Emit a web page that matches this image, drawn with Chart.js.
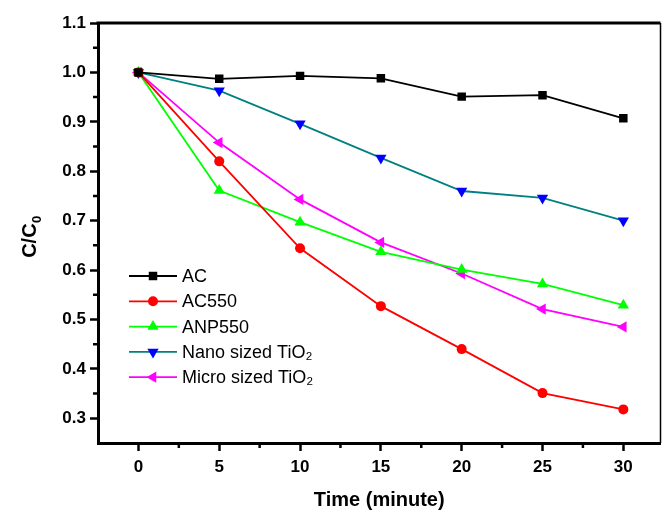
<!DOCTYPE html>
<html>
<head>
<meta charset="utf-8">
<script src="https://cdn.jsdelivr.net/npm/chart.js@4/dist/chart.umd.min.js"></script>
<style>
  html, body { margin: 0; padding: 0; background: #fff; }
  #wrap { width: 667px; height: 516px; }
</style>
</head>
<body>
<div id="wrap"><canvas id="myChart" width="667" height="516"></canvas></div>
<script>
const times = [0, 5, 10, 15, 20, 25, 30];
const xTicks = [0, 5, 10, 15, 20, 25, 30];
const yTicks = [0.3, 0.4, 0.5, 0.6, 0.7, 0.8, 0.9, 1.0, 1.1];

const acValues    = [1.0, 0.987, 0.993, 0.988, 0.951, 0.954, 0.907];
const ac550Values = [1.0, 0.820, 0.644, 0.527, 0.440, 0.351, 0.318];
const anp550Values = [1.0, 0.761, 0.697, 0.637, 0.601, 0.572, 0.529];
const nanoValues  = [1.0, 0.963, 0.896, 0.827, 0.760, 0.746, 0.700];
const microValues = [1.0, 0.858, 0.743, 0.656, 0.593, 0.521, 0.485];

const seriesNames = ['AC', 'AC550', 'ANP550', 'Nano sized TiO\u2082', 'Micro sized TiO\u2082'];

const FONT = "'Liberation Sans', Arial, sans-serif";

function points(values) {
  return times.map((t, i) => ({ x: t, y: values[i] }));
}

function series(label, values, lineColor, markColor, style, radius, rotation) {
  return {
    label: label,
    data: points(values),
    borderColor: lineColor,
    borderWidth: 1.8,
    backgroundColor: markColor,
    pointBackgroundColor: markColor,
    pointBorderColor: markColor,
    pointBorderWidth: 0,
    pointStyle: style,
    pointRadius: radius,
    pointRotation: rotation,
    pointHoverRadius: radius,
    tension: 0
  };
}

// legend with line + marker, like the origin plot
const lineLegend = {
  id: 'lineLegend',
  afterDatasetsDraw(chart) {
    const ctx = chart.ctx;
    chart.data.datasets.forEach((ds, i) => {
      const y = 276 + i * 25.3;
      ctx.save();
      ctx.strokeStyle = ds.borderColor;
      ctx.lineWidth = ds.borderWidth;
      ctx.beginPath();
      ctx.moveTo(129, y);
      ctx.lineTo(177, y);
      ctx.stroke();
      ctx.fillStyle = ds.pointBackgroundColor;
      ctx.strokeStyle = ds.pointBorderColor;
      Chart.helpers.drawPoint(ctx, {
        pointStyle: ds.pointStyle,
        rotation: ds.pointRotation,
        radius: ds.pointRadius,
        borderWidth: 0
      }, 153, y);
      ctx.fillStyle = '#000';
      ctx.font = '18px ' + FONT;
      ctx.textBaseline = 'middle';
      ctx.textAlign = 'left';
      ctx.fillText(ds.label, 182, y + 1);
      ctx.restore();
    });
  }
};

// frame on top/right, minor ticks, and the C/C0 title with a real subscript
const frame = {
  id: 'frame',
  beforeDatasetsDraw(chart) {
    const ctx = chart.ctx;
    const a = chart.chartArea;
    const xs = chart.scales.x, ys = chart.scales.y;
    ctx.save();
    ctx.strokeStyle = '#000';
    ctx.lineWidth = 3;
    ctx.beginPath();
    ctx.moveTo(a.left - 1.5, a.top);
    ctx.lineTo(a.right, a.top);
    ctx.stroke();
    ctx.lineWidth = 1.5;
    ctx.beginPath();
    ctx.moveTo(a.right, a.top);
    ctx.lineTo(a.right, a.bottom);
    ctx.stroke();
    ctx.lineWidth = 2.5;
    ctx.beginPath();
    for (let i = 0; i < yTicks.length - 1; i++) {
      const py = ys.getPixelForValue((yTicks[i] + yTicks[i + 1]) / 2);
      ctx.moveTo(a.left, py);
      ctx.lineTo(a.left - 5, py);
    }
    for (let i = 0; i < xTicks.length; i++) {
      const px = xs.getPixelForValue(xTicks[i] + 2.5);
      if (px < a.right - 2) {
        ctx.moveTo(px, a.bottom);
        ctx.lineTo(px, a.bottom + 5);
      }
    }
    ctx.stroke();

    // y title
    const main = 'C/C', sub = '0';
    ctx.fillStyle = '#000';
    ctx.font = 'bold 20px ' + FONT;
    const w1 = ctx.measureText(main).width;
    ctx.font = 'bold 13px ' + FONT;
    const w2 = ctx.measureText(sub).width;
    ctx.translate(36, (a.top + a.bottom) / 2 + 4);
    ctx.rotate(-Math.PI / 2);
    ctx.textBaseline = 'alphabetic';
    ctx.textAlign = 'left';
    const x0 = -(w1 + w2) / 2;
    ctx.font = 'bold 20px ' + FONT;
    ctx.fillText(main, x0, 0);
    ctx.font = 'bold 13px ' + FONT;
    ctx.fillText(sub, x0 + w1 + 0.5, 5);
    ctx.restore();
  }
};

const ctx = document.getElementById('myChart');

const myChart = new Chart(ctx, {
  type: 'line',
  data: {
    datasets: [
      series(seriesNames[0], acValues, '#000000', '#000000', 'rect', 6, 0),
      series(seriesNames[1], ac550Values, '#ff0000', '#ff0000', 'circle', 5, 0),
      series(seriesNames[2], anp550Values, '#00ff00', '#00ff00', 'triangle', 6.5, 0),
      series(seriesNames[3], nanoValues, '#008080', '#0000ff', 'triangle', 6.5, 180),
      series(seriesNames[4], microValues, '#ff00ff', '#ff00ff', 'triangle', 6.5, 270)
    ]
  },
  options: {
    responsive: false,
    animation: false,
    layout: { padding: { top: 23, right: 4, left: 0, bottom: 0 } },
    plugins: {
      legend: { display: false },
      tooltip: { enabled: false }
    },
    scales: {
      x: {
        type: 'linear',
        min: -2.5,
        max: 32.3,
        afterBuildTicks: scale => { scale.ticks = xTicks.map(v => ({ value: v })); },
        afterFit: scale => { scale.height = 73; },
        grid: { drawOnChartArea: false, drawTicks: true, tickLength: 8, tickColor: '#000', tickWidth: 2.5 },
        border: { display: true, color: '#000', width: 3 },
        ticks: {
          color: '#000',
          padding: 6,
          maxRotation: 0,
          font: { family: FONT, size: 17, weight: 'bold' }
        },
        title: {
          display: true,
          text: 'Time (minute)',
          color: '#000',
          padding: { top: 5 },
          font: { family: FONT, size: 20, weight: 'bold' }
        }
      },
      y: {
        type: 'linear',
        min: 0.25,
        max: 1.1,
        afterBuildTicks: scale => { scale.ticks = yTicks.map(v => ({ value: v })); },
        afterFit: scale => { scale.width = 98; },
        grid: { drawOnChartArea: false, drawTicks: true, tickLength: 8, tickColor: '#000', tickWidth: 2.5 },
        border: { display: true, color: '#000', width: 3 },
        ticks: {
          color: '#000',
          padding: 4,
          font: { family: FONT, size: 17, weight: 'bold' },
          callback: v => v.toFixed(1)
        },
        title: { display: false }
      }
    }
  },
  plugins: [frame, lineLegend]
});
</script>
</body>
</html>
